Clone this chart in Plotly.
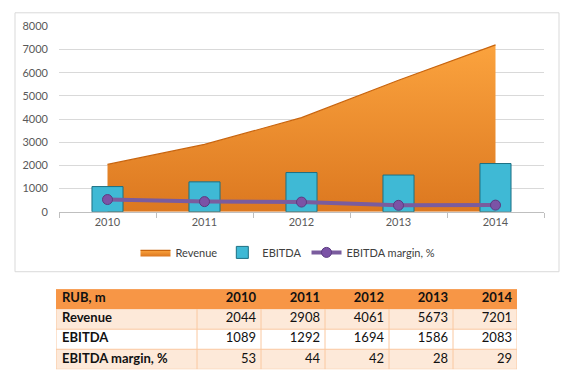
import plotly.graph_objects as go

years = ["2010", "2011", "2012", "2013", "2014"]
revenue = [2044, 2908, 4061, 5673, 7201]
ebitda = [1089, 1292, 1694, 1586, 2083]
margin = [53, 44, 42, 28, 29]
y_ticks = [0, 1000, 2000, 3000, 4000, 5000, 6000, 7000, 8000]
table_corner = "RUB, m"
row_labels = ["Revenue", "EBITDA", "EBITDA margin, %"]

W, H = 576, 384
FONT = "Lato, Calibri, Carlito, sans-serif"

def px_x(a, b):
    return [a / W, b / W]

def px_y(top, bottom):
    return [1 - bottom / H, 1 - top / H]

fig = go.Figure()

# Revenue area (base subplot, below bars)
fig.add_trace(go.Scatter(
    x=years, y=revenue, name="Revenue", mode="lines",
    fill="tozeroy",
    line=dict(color="#C8650F", width=1.2),
    fillgradient=dict(type="vertical",
                      colorscale=[[0, "#DC7820"], [1, "#FBA33E"]]),
    xaxis="x", yaxis="y",
))

# EBITDA bars (overlay so they sit above the area)
fig.add_trace(go.Bar(
    x=years, y=ebitda, name="EBITDA", width=0.32,
    marker=dict(color="#3FB9D5", line=dict(color="#1C6F83", width=1)),
    xaxis="x", yaxis="y2",
))

# EBITDA margin line (0-800 scale on hidden overlay axis)
fig.add_trace(go.Scatter(
    x=years, y=margin, name="EBITDA margin, %", mode="lines+markers",
    line=dict(color="#7A5C9E", width=4),
    marker=dict(color="#7B53A6", size=10, line=dict(color="#5B3C80", width=1)),
    xaxis="x", yaxis="y3",
))

# ---------- data table drawn on its own subplot ----------
col_widths = [141, 64, 64, 64, 64, 64]
edges = [0]
for w in col_widths:
    edges.append(edges[-1] + w)
n_rows = 1 + len(row_labels)
row_edges = list(range(n_rows + 1))
row_kind = [0, 1, 2, 1]  # header / peach / white / peach

fig.add_trace(go.Heatmap(
    x=edges, y=row_edges,
    z=[[row_kind[r]] * len(col_widths) for r in range(n_rows)],
    zmin=0, zmax=2,
    colorscale=[[0, "#F79646"], [0.5, "#FDE9D9"], [1, "#FFFFFF"]],
    showscale=False, hoverinfo="skip",
    xaxis="x4", yaxis="y4",
))

# cell texts
header_vals = [table_corner] + years
body_vals = [revenue, ebitda, margin]
tx, ty, tt, tp = [], [], [], []
for c in range(len(col_widths)):
    for r in range(n_rows):
        if r == 0:
            s = "<b>%s</b>" % header_vals[c]
        elif c == 0:
            s = "<b>%s</b>" % row_labels[r - 1]
        else:
            s = str(body_vals[r - 1][c - 1])
        if c == 0:
            tx.append(edges[0] + 6)
            tp.append("middle right")
        else:
            tx.append(edges[c + 1] - 5)
            tp.append("middle left")
        ty.append(r + 0.5)
        tt.append(s)

fig.add_trace(go.Scatter(
    x=tx, y=ty, text=tt, mode="text", textposition=tp,
    textfont=dict(family=FONT, size=13, color="#111111"),
    showlegend=False, hoverinfo="skip",
    xaxis="x4", yaxis="y4",
))

shapes = []
border = "#FAC8A0"
for e in edges:
    shapes.append(dict(type="line", xref="x4", yref="y4", x0=e, x1=e,
                       y0=1, y1=n_rows, line=dict(color=border, width=1)))
for r in range(2, n_rows + 1):
    shapes.append(dict(type="line", xref="x4", yref="y4", x0=edges[0], x1=edges[-1],
                       y0=r, y1=r, line=dict(color=border, width=1)))

# chart frame
shapes.append(dict(type="rect", xref="paper", yref="paper",
                   x0=15 / W, x1=559 / W, y0=1 - 274 / H, y1=1 - 6 / H,
                   line=dict(color="#D9D9D9", width=1), fillcolor="rgba(0,0,0,0)",
                   layer="below"))

ydom = px_y(20, 212)
fig.update_layout(
    width=W, height=H,
    margin=dict(l=0, r=0, t=0, b=0),
    paper_bgcolor="white", plot_bgcolor="white",
    font=dict(family=FONT, size=11, color="#595959"),
    barmode="overlay",
    xaxis=dict(domain=px_x(59, 544), type="category", range=[-0.5, 4.5],
               showline=True, linecolor="#BFBFBF", linewidth=1,
               ticks="outside", tickson="boundaries", ticklen=5, tickcolor="#BFBFBF",
               showgrid=False, tickfont=dict(size=11, color="#595959"),
               fixedrange=True),
    yaxis=dict(domain=ydom, range=[0, 8000], tickvals=y_ticks,
               showgrid=True, gridcolor="#D9D9D9", gridwidth=1,
               zeroline=False, showline=False, ticks="",
               ticklabelstandoff=10,
               tickfont=dict(size=11, color="#595959")),
    yaxis2=dict(domain=ydom, range=[0, 8000], overlaying="y", visible=False),
    yaxis3=dict(domain=ydom, range=[0, 800], overlaying="y", visible=False),
    xaxis4=dict(domain=px_x(56, 517), range=[edges[0], edges[-1]], visible=False,
                anchor="y4"),
    yaxis4=dict(domain=px_y(292, 375), range=[n_rows, 0], visible=False,
                anchor="x4"),
    showlegend=True,
    legend=dict(orientation="h", x=0.5, xanchor="center", y=1 - 254 / H, yanchor="middle",
                font=dict(size=11, color="#404040"), bgcolor="rgba(0,0,0,0)",
                itemwidth=30),
    shapes=shapes,
)

fig.write_html("out.html", post_script="document.body.style.margin='0';",
               config={"displayModeBar": False})
